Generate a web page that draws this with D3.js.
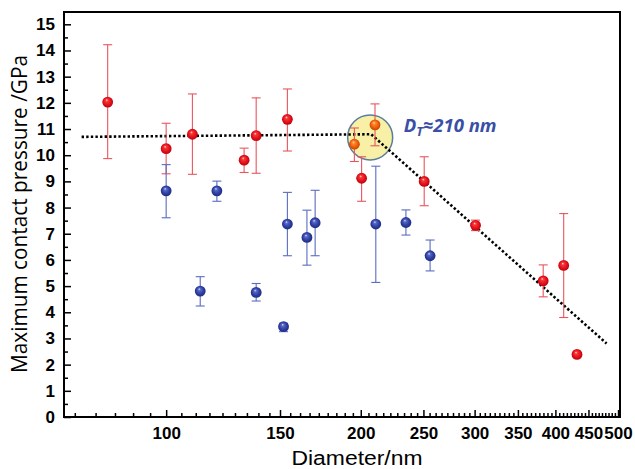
<!DOCTYPE html>
<html><head><meta charset="utf-8">
<script src="https://cdn.jsdelivr.net/npm/d3@7/dist/d3.min.js"></script>
<style>body{margin:0;background:#fff;} svg{display:block;}</style>
</head><body><svg id="c" width="635" height="469"></svg>
<script>
// ---- data ----
const xTickLabels = [100,150,200,250,300,350,400,450,500];
const yTickLabels = [0,1,2,3,4,5,6,7,8,9,10,11,12,13,14,15];

const redD  = [81.2, 100, 109.8, 132, 137.8, 154, 200.6, 250.7, 301, 383, 412, 432];
const redV  = [12.03, 10.25, 10.80, 9.81, 10.75, 11.37, 9.12, 9.00, 7.32, 5.20, 5.79, 2.39];
const redHi = [14.22, 11.22, 12.34, 10.27, 12.19, 12.53, 9.94, 9.94, 7.52, 5.81, 7.77, 2.39];
const redLo = [9.87, 9.29, 9.27, 9.34, 9.31, 10.16, 8.24, 8.07, 7.12, 4.59, 3.80, 2.39];

const orangeD  = [195.5, 210.4];
const orangeV  = [10.42, 11.16];
const orangeHi = [11.04, 11.96];
const orangeLo = [9.76, 10.36];

const blueD  = [100, 112.9, 119.8, 137.8, 151.9, 154, 165.1, 170, 211, 234.9, 256];
const blueV  = [8.64, 4.81, 8.64, 4.76, 3.45, 7.37, 6.86, 7.42, 7.37, 7.43, 6.16];
const blueHi = [9.64, 5.36, 9.01, 5.10, 3.58, 8.58, 7.90, 8.66, 9.58, 7.91, 6.76];
const blueLo = [7.61, 4.24, 8.24, 4.43, 3.26, 6.16, 5.80, 6.16, 5.14, 6.95, 5.58];

const trendD = [74, 207.5, 480];
const trendV = [10.70, 10.80, 2.81];

const highlightD = [206.8], highlightV = [10.68];
const annotD = [233], annotV = [10.89];
const annotMain = "D", annotSub = "T", annotRest = "\u2248210 nm";

// ---- layout ----
const svg = d3.select("#c");
const L = 64, R = 620, T = 12, B = 417;
const x = d3.scaleLog().domain([69.5, 503.5]).range([L, R]);
const y = d3.scaleLinear().domain([0, 15.47]).range([B, T]);

const defs = svg.append("defs");
function grad(id, stops) {
  const g = defs.append("radialGradient").attr("id", id)
    .attr("cx", "0.5").attr("cy", "0.5").attr("r", "0.55").attr("fx", "0.4").attr("fy", "0.3");
  stops.forEach(s => g.append("stop").attr("offset", s[0]).attr("stop-color", s[1]));
}
grad("gRed", [[0, "#ffe0e0"], [0.22, "#f43a3a"], [0.6, "#e8121c"], [1, "#b0000a"]]);
grad("gBlue", [[0, "#d8def8"], [0.22, "#5668c8"], [0.6, "#3040a4"], [1, "#1c2878"]]);
grad("gOrange", [[0, "#ffe4b0"], [0.22, "#ff8a2a"], [0.6, "#f2600e"], [1, "#b84000"]]);

// minor ticks
const xMinor = [];
const step = xTickLabels[1] - xTickLabels[0];
for (let base = xTickLabels[0] - step; base < xTickLabels[xTickLabels.length - 1]; base += step) {
  for (let k = 1; k <= 8; k++) {
    const v = base + step * k / 9;
    if (v >= x.domain()[0] && v <= x.domain()[1]) xMinor.push(v);
  }
}
const yMinor = yTickLabels.map(v => v + 0.5).filter(v => v < y.domain()[1]);

const tickFont = "'Liberation Sans', Arial, sans-serif";

// x axis
const gx = svg.append("g").attr("transform", `translate(0,${B})`);
gx.call(d3.axisBottom(x).tickValues(xMinor).tickSize(-4).tickFormat(""));
gx.call(g => g.select(".domain").remove());
const gx2 = svg.append("g").attr("transform", `translate(0,${B})`);
gx2.call(d3.axisBottom(x).tickValues(xTickLabels).tickSize(-7).tickPadding(10).tickFormat(d3.format("d")));
gx2.select(".domain").remove();
gx2.selectAll("text").attr("font-family", tickFont).attr("font-weight", "bold").attr("font-size", 17).attr("fill", "#000");
[gx, gx2].forEach(g => g.selectAll("line").attr("stroke", "#000").attr("stroke-width", 1.5));

// y axis
const gy = svg.append("g").attr("transform", `translate(${L},0)`);
gy.call(d3.axisLeft(y).tickValues(yMinor).tickSize(-4).tickFormat(""));
gy.select(".domain").remove();
const gy2 = svg.append("g").attr("transform", `translate(${L},0)`);
gy2.call(d3.axisLeft(y).tickValues(yTickLabels).tickSize(-7).tickPadding(9).tickFormat(d3.format("d")));
gy2.select(".domain").remove();
gy2.selectAll("text").attr("font-family", tickFont).attr("font-weight", "bold").attr("font-size", 17).attr("fill", "#000");
[gy, gy2].forEach(g => g.selectAll("line").attr("stroke", "#000").attr("stroke-width", 1.5));

// frame
svg.append("rect").attr("x", L).attr("y", T).attr("width", R - L).attr("height", B - T)
  .attr("fill", "none").attr("stroke", "#000").attr("stroke-width", 2);

// highlight circle
svg.append("circle").attr("cx", x(highlightD[0])).attr("cy", y(highlightV[0])).attr("r", 22.5)
  .attr("fill", "#f7f0a6").attr("stroke", "#5a7d9a").attr("stroke-width", 1.5);

// trend line
const line = d3.line().x((d, i) => x(trendD[i])).y((d, i) => y(trendV[i]));
svg.append("path").attr("d", line(trendD)).attr("fill", "none").attr("stroke", "#000")
  .attr("stroke-width", 2.6).attr("stroke-dasharray", "2.4,2.2");

// error bars + markers
function series(D, V, Hi, Lo, barColor, fill) {
  const g = svg.append("g");
  D.forEach((d, i) => {
    if (Hi[i] - Lo[i] <= 0) return;
    const cx = x(d);
    g.append("line").attr("x1", cx).attr("x2", cx).attr("y1", y(Hi[i])).attr("y2", y(Lo[i]))
      .attr("stroke", barColor).attr("stroke-width", 1.1);
    [Hi[i], Lo[i]].forEach(v => g.append("line").attr("x1", cx - 4.5).attr("x2", cx + 4.5)
      .attr("y1", y(v)).attr("y2", y(v)).attr("stroke", barColor).attr("stroke-width", 1.1));
  });
  return () => D.forEach((d, i) => {
    svg.append("circle").attr("cx", x(d)).attr("cy", y(V[i])).attr("r", 5.4).attr("fill", fill);
  });
}
const drawRed = series(redD, redV, redHi, redLo, "#e8555e", "url(#gRed)");
const drawBlue = series(blueD, blueV, blueHi, blueLo, "#5a6cc0", "url(#gBlue)");
const drawOrange = series(orangeD, orangeV, orangeHi, orangeLo, "#e8555e", "url(#gOrange)");
drawRed(); drawBlue(); drawOrange();

// annotation
const at = svg.append("text").attr("x", x(annotD[0])).attr("y", y(annotV[0]))
  .attr("font-family", "'Open Sans', sans-serif").attr("font-weight", "bold").attr("font-style", "italic")
  .attr("font-size", 18.5).attr("fill", "#3a4fa6");
at.append("tspan").text(annotMain);
at.append("tspan").attr("font-size", 13).attr("dy", 4).text(annotSub);
at.append("tspan").attr("dy", -4).text(annotRest);

// axis titles
svg.append("text").attr("x", 357).attr("y", 465).attr("text-anchor", "middle")
  .attr("font-family", "'Liberation Sans', Arial, sans-serif").attr("font-size", 20).attr("fill", "#000")
  .attr("textLength", 131).attr("lengthAdjust", "spacingAndGlyphs")
  .text("Diameter/nm");
svg.append("text").attr("transform", "translate(27,214) rotate(-90)").attr("text-anchor", "middle")
  .attr("font-family", "'Open Sans', sans-serif").attr("font-size", 21).attr("fill", "#000")
  .attr("textLength", 318).attr("lengthAdjust", "spacingAndGlyphs")
  .text("Maximum contact pressure /GPa");
</script>
</body></html>
